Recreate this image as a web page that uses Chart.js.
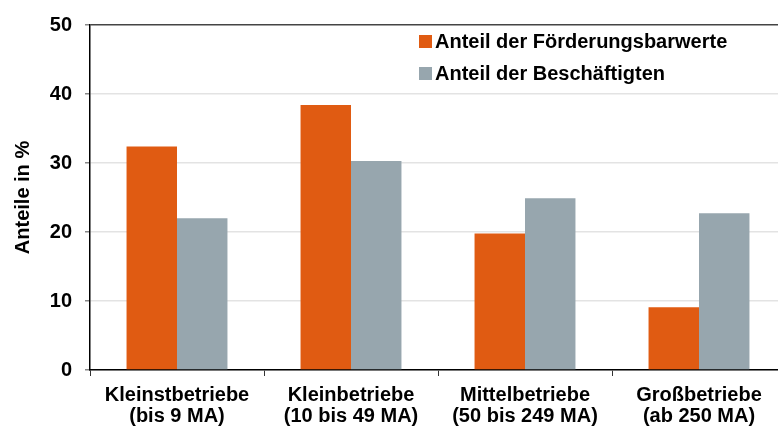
<!DOCTYPE html>
<html>
<head>
<meta charset="utf-8">
<script src="https://cdn.jsdelivr.net/npm/chart.js@4/dist/chart.umd.min.js"></script>
<style>
  html, body { margin: 0; padding: 0; background: #fff; overflow: hidden; }
  /* Plot läuft im Original etwas über den rechten Bildrand hinaus */
  #wrap { width: 786px; height: 429px; }
</style>
</head>
<body>
<div id="wrap"><canvas id="chartCanvas"></canvas></div>
<script>
var kategorien = [
    ["Kleinstbetriebe", "(bis 9 MA)"],
    ["Kleinbetriebe", "(10 bis 49 MA)"],
    ["Mittelbetriebe", "(50 bis 249 MA)"],
    ["Großbetriebe", "(ab 250 MA)"]
];
var foerderung = [32.4, 38.4, 19.8, 9.1];
var beschaeftigte = [22.0, 30.3, 24.9, 22.7];
var serienNamen = ["Anteil der Förderungsbarwerte", "Anteil der Beschäftigten"];
var yTicks = [0, 10, 20, 30, 40, 50];

var schrift = "'Liberation Sans', Arial, sans-serif";

// Legende oben rechts im Diagramm zeichnen
var legendePlugin = {
    id: 'legendeImPlot',
    afterDraw: function (chart) {
        var ctx = chart.ctx;
        ctx.save();
        ctx.font = "bold 20px " + schrift;
        ctx.textBaseline = "middle";
        ctx.textAlign = "left";
        chart.data.datasets.forEach(function (ds, i) {
            var y = 41 + i * 32;
            ctx.fillStyle = ds.backgroundColor;
            ctx.fillRect(419, y - 6, 13, 13);
            ctx.fillStyle = "#000";
            ctx.fillText(ds.label, 435, y + 1);
        });
        ctx.restore();
    }
};

var ctx = document.getElementById("chartCanvas");
var chart = new Chart(ctx, {
    type: 'bar',
    data: {
        labels: kategorien,
        datasets: [{
            label: serienNamen[0],
            backgroundColor: "#E05B12",
            data: foerderung
        }, {
            label: serienNamen[1],
            backgroundColor: "#97A6AE",
            data: beschaeftigte
        }]
    },
    options: {
        responsive: true,
        maintainAspectRatio: false,
        animation: false,
        layout: { padding: { top: 24, right: 0, left: 0, bottom: 0 } },
        datasets: {
            bar: { categoryPercentage: 0.58, barPercentage: 1.0 }
        },
        plugins: {
            legend: { display: false },
            tooltip: { enabled: false }
        },
        scales: {
            x: {
                offset: true,
                grid: {
                    offset: true,
                    drawOnChartArea: false,
                    tickLength: 6,
                    color: "#333"
                },
                border: { color: "#000", width: 1.5 },
                ticks: {
                    color: "#000",
                    font: { family: schrift, size: 20, weight: 'bold', lineHeight: 1.05 },
                    padding: 9,
                    maxRotation: 0
                },
                afterFit: function (s) { s.height = 59; }
            },
            y: {
                min: 0,
                max: 50,
                afterBuildTicks: function (s) {
                    s.ticks = yTicks.map(function (v) { return { value: v }; });
                },
                grid: {
                    tickLength: 5,
                    lineWidth: 1.5,
                    color: function (c) {
                        return c.tick && c.tick.value === 50 ? "#444" : "#e3e3e3";
                    },
                    tickColor: "#888"
                },
                border: { color: "#000", width: 1.5 },
                ticks: {
                    color: "#000",
                    font: { family: schrift, size: 20, weight: 'bold' },
                    padding: 13
                },
                title: {
                    display: true,
                    text: "Anteile in %",
                    color: "#000",
                    font: { family: schrift, size: 20, weight: 'bold' },
                    padding: { top: 11, bottom: 4 }
                },
                afterFit: function (s) { s.width = 90; }
            }
        }
    },
    plugins: [legendePlugin]
});
</script>
</body>
</html>
